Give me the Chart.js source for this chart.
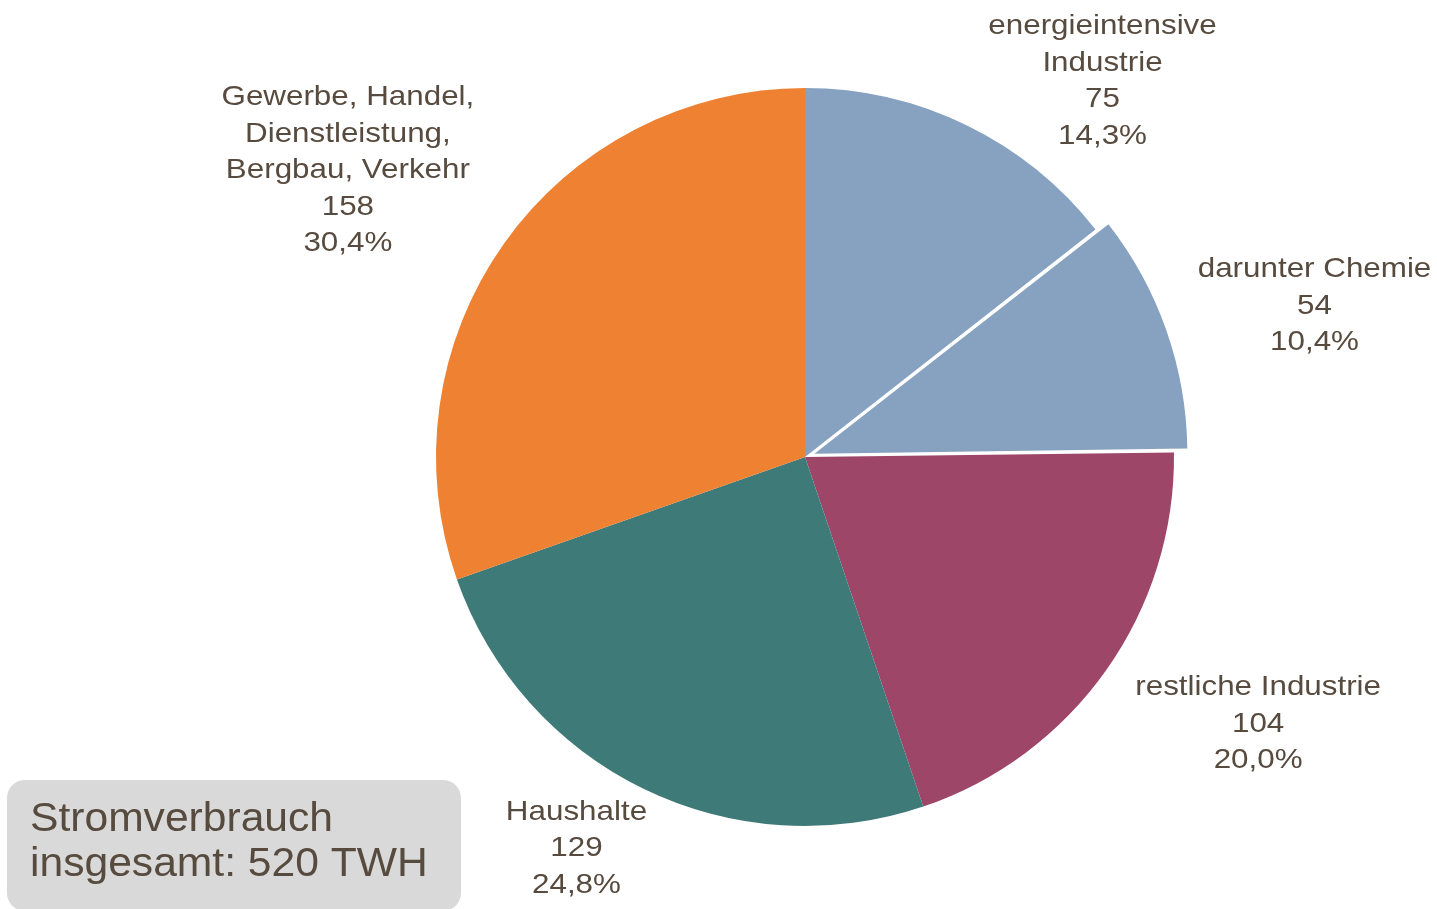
<!DOCTYPE html>
<html><head><meta charset="utf-8">
<script src="https://cdn.jsdelivr.net/npm/chart.js@4.4.0/dist/chart.umd.min.js"></script>
<style>html,body{margin:0;padding:0;background:#fff;overflow:hidden}#wrap{width:1437px;height:909px;position:relative}</style>
</head><body><div id="wrap"><canvas id="c" width="1437" height="909"></canvas></div>
<script>
// ---- data ----
const categories = [
  ['energieintensive', 'Industrie'],
  ['darunter Chemie'],
  ['restliche Industrie'],
  ['Haushalte'],
  ['Gewerbe, Handel,', 'Dienstleistung,', 'Bergbau, Verkehr']
];
const values = [75, 54, 104, 129, 158];
const percentLabels = ['14,3%', '10,4%', '20,0%', '24,8%', '30,4%'];
const totalLabel = ['Stromverbrauch', 'insgesamt: 520 TWH'];

// ---- style ----
const colors = ['#87A2C0', '#87A2C0', '#9E4668', '#3E7A78', '#EE8132'];
const offsets = [0, 40, 0, 0, 0];
const textColor = '#574A3E';

const labelPlugin = {
  id: 'sliceLabels',
  afterDatasetsDraw(chart, args, opts) {
    const ctx = chart.ctx;
    const meta = chart.getDatasetMeta(0);
    meta.data.forEach((arc, i) => {
      const p = arc.getProps(['x', 'y', 'startAngle', 'endAngle', 'outerRadius'], true);
      const a = (p.startAngle + p.endAngle) / 2;
      const shift = (arc.options.offset || 0) / 4;
      const R = p.outerRadius + shift;
      const px = p.x + Math.cos(a) * R, py = p.y + Math.sin(a) * R;
      const n = opts.nudge[i];
      const cx = px + n[0], cy = py + n[1];
      const lines = [...categories[i], String(values[i]), percentLabels[i]];
      ctx.save();
      ctx.font = opts.font;
      ctx.fillStyle = textColor;
      ctx.textAlign = 'center';
      ctx.textBaseline = 'middle';
      lines.forEach((t, k) => {
        const ly = cy + (k - (lines.length - 1) / 2) * opts.lineHeight;
        ctx.save();
        ctx.translate(cx, ly);
        ctx.scale(opts.scaleX, 1);
        ctx.fillText(t, 0, 0);
        ctx.restore();
      });
      ctx.restore();
    });
  }
};

const boxPlugin = {
  id: 'totalBox',
  afterDraw(chart, args, opts) {
    const ctx = chart.ctx;
    ctx.save();
    ctx.fillStyle = '#D9D9D9';
    ctx.beginPath();
    ctx.roundRect(7, 780, 454, 131, 18);
    ctx.fill();
    ctx.font = '40px "Liberation Sans", Arial, sans-serif';
    ctx.fillStyle = textColor;
    ctx.textAlign = 'left';
    ctx.textBaseline = 'middle';
    totalLabel.forEach((t, k) => {
      ctx.save();
      ctx.translate(30, 820 + k * 45);
      ctx.scale(1.065, 1);
      ctx.fillText(t, 0, 0);
      ctx.restore();
    });
    ctx.restore();
  }
};

new Chart(document.getElementById('c'), {
  type: 'pie',
  data: {
    labels: categories,
    datasets: [{
      data: values,
      backgroundColor: colors,
      borderWidth: 0,
      offset: offsets,
      hoverOffset: 0
    }]
  },
  options: {
    responsive: false,
    animation: false,
    radius: 369,
    layout: { padding: { left: 173, right: 0, top: 5, bottom: 0 } },
    events: [],
    plugins: {
      legend: { display: false },
      tooltip: { enabled: false },
      sliceLabels: {
        font: '28px "Liberation Sans", Arial, sans-serif',
        lineHeight: 36.5,
        scaleX: 1.12,
        nudge: [[136, -44], [152, -25], [152, 54], [-67, 60], [-156, -73]]
      }
    }
  },
  plugins: [labelPlugin, boxPlugin]
});
</script>
</body></html>
